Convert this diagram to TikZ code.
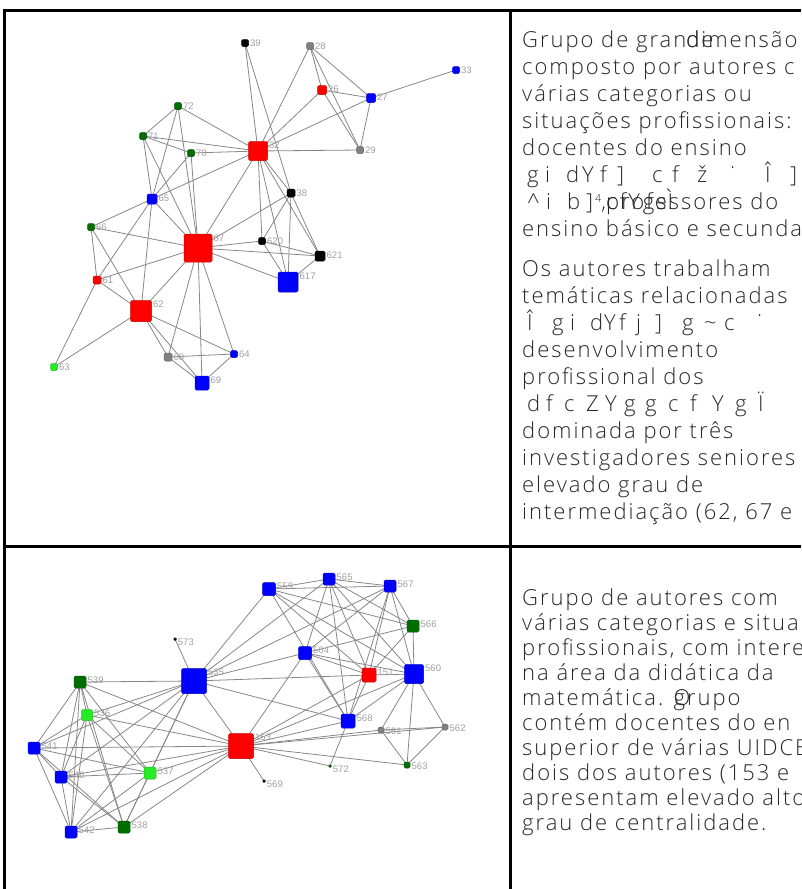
\documentclass[tikz,border=0pt]{standalone}
\usepackage{fontspec}
\newfontfamily\txtfont{Open Sans Light}[LetterSpace=9]
\newfontfamily\lblfont{Liberation Sans}
\pgfdeclarelayer{edges}
\pgfsetlayers{edges,main}
\definecolor{cred}{RGB}{255,0,0}
\definecolor{cblue}{RGB}{0,0,255}
\definecolor{cdg}{RGB}{0,110,0}
\definecolor{clg}{RGB}{40,235,40}
\definecolor{cgray}{RGB}{128,128,128}
\definecolor{cblk}{RGB}{0,0,0}
\definecolor{edgec}{RGB}{135,135,135}
\definecolor{lblc}{RGB}{160,160,160}
\definecolor{txtc}{RGB}{40,40,40}
\tikzset{
  gn/.style={rectangle, rounded corners=1.5pt, inner sep=0pt, outer sep=0pt, minimum size=#1, line width=0.5pt},
  lbl/.style={font=\lblfont\fontsize{9.5}{10}\selectfont, text=lblc, inner sep=0pt, anchor=west},
  edge/.style={draw=edgec, line width=0.8pt},
  frame/.style={line width=3pt, draw=black},
  txt/.style={font=\txtfont\fontsize{22}{27}\selectfont, text=txtc, inner sep=0pt, anchor=base west},
}
\newcommand\gnd[6]{%
  \node[gn=#4, fill=#5, draw=#5!80!black] (#1) at (#2,#3) {};
  \node[lbl] (#1l) at ([xshift=1.5pt,yshift=-4pt]#1.north east) {#6};}
\newcommand\gl[2]{\makebox[#1pt][l]{#2}}
\begin{document}
\begin{tikzpicture}[x=1pt,y=-1pt]
\useasboundingbox (0,0) rectangle (801,889);
\clip (0,0) rectangle (801,889);
% table frame
\draw[frame] (4,10) -- (805,10);
\draw[frame] (4,8.5) -- (4,895);
\draw[frame] (510,10) -- (510,895);
\draw[frame] (4,546) -- (805,546);

% ---------- graph 1 ----------
\gnd{a39}{245}{43}{7}{cblk}{39}
\gnd{a28}{310}{46}{7}{cgray}{28}
\gnd{a33}{456}{70}{7}{cblue}{33}
\gnd{a26}{322}{90}{9}{cred}{26}
\gnd{a27}{371}{98}{9}{cblue}{27}
\gnd{a72}{178}{106}{7}{cdg}{72}
\gnd{a71}{143}{136}{7}{cdg}{71}
\gnd{a70}{191}{153}{7}{cdg}{70}
\gnd{a32}{258}{151}{19}{cred}{32}
\gnd{a29}{360}{150}{7}{cgray}{29}
\gnd{a38}{291}{193}{8}{cblk}{38}
\gnd{a65}{152}{199}{10}{cblue}{65}
\gnd{a66}{91}{227}{7}{cdg}{66}
\gnd{a67}{198}{248}{28}{cred}{67}
\gnd{a620}{262}{241}{7}{cblk}{620}
\gnd{a621}{320}{256}{10}{cblk}{621}
\gnd{a617}{288}{282}{20}{cblue}{617}
\gnd{a61}{97}{280}{8}{cred}{61}
\gnd{a62}{141}{311}{21}{cred}{62}
\gnd{a68}{168}{357}{8}{cgray}{68}
\gnd{a64}{234}{354}{7}{cblue}{64}
\gnd{a63}{54}{367}{7}{clg}{63}
\gnd{a69}{202}{383}{14}{cblue}{69}

% ---------- graph 2 ----------
\gnd{b559}{269}{589}{13}{cblue}{559}
\gnd{b565}{329}{579}{12}{cblue}{565}
\gnd{b567}{390}{586}{12}{cblue}{567}
\gnd{b566}{413}{626}{12}{cdg}{566}
\gnd{b573}{175}{639}{2.5}{cblk}{573}
\gnd{b564}{305}{653}{13}{cblue}{564}
\gnd{b535}{194}{681}{25}{cblue}{535}
\gnd{b151}{369}{675}{14}{cred}{151}
\gnd{b560}{414}{674}{19}{cblue}{560}
\gnd{b539}{80}{682}{12}{cdg}{539}
\gnd{b536}{87}{715}{11}{clg}{536}
\gnd{b568}{348}{721}{14}{cblue}{568}
\gnd{b561}{381}{730}{6}{cgray}{561}
\gnd{b562}{445}{727}{6}{cgray}{562}
\gnd{b153}{241}{746}{25}{cred}{153}
\gnd{b541}{34}{748}{12}{cblue}{541}
\gnd{b540}{61}{777}{12}{cblue}{540}
\gnd{b537}{150}{773}{12}{clg}{537}
\gnd{b572}{330}{766}{2.5}{cdg}{572}
\gnd{b563}{407}{765}{6}{cdg}{563}
\gnd{b569}{264}{781}{2.5}{cblk}{569}
\gnd{b542}{71}{832}{12}{cblue}{542}
\gnd{b538}{124}{827}{12}{cdg}{538}

\begin{pgfonlayer}{edges}
\foreach \a/\b in {a39/a32, a39/a38, a28/a32, a28/a26, a28/a27, a28/a29, a26/a32, a26/a27, a26/a29,
  a27/a33, a27/a32, a27/a29, a29/a32, a72/a71, a72/a32, a72/a65, a72/a67, a70/a67,
  a71/a32, a71/a70, a71/a65, a71/a67, a70/a32, a70/a65, a65/a32, a65/a66, a65/a61, a65/a62, a65/a67,
  a66/a67, a66/a61, a66/a62, a67/a32, a67/a38, a67/a620, a67/a621, a67/a617, a67/a61, a67/a62,
  a67/a68, a67/a69, a67/a64, a32/a620, a32/a617, a32/a621, a32/a38, a38/a620, a38/a617, a38/a621,
  a620/a621, a620/a617, a621/a617, a61/a62, a61/a63, a62/a63, a62/a68, a62/a69, a62/a64,
  a68/a64, a68/a69, a64/a69}
  {\draw[edge] (\a.center) -- (\b.center);}
\foreach \a/\b in {b559/b565, b559/b567, b559/b535, b559/b568, b559/b151, b559/b566, b559/b560,
  b565/b567, b565/b535, b565/b564, b565/b151, b565/b568, b565/b566, b565/b560,
  b567/b564, b567/b151, b567/b566, b567/b560, b567/b535, b567/b568,
  b566/b564, b566/b151, b566/b560, b564/b535, b564/b151, b564/b568, b564/b153, b564/b560,
  b573/b535, b535/b151, b535/b153, b535/b568, b535/b539, b535/b536, b535/b541, b535/b540,
  b535/b537, b535/b542, b535/b538, b151/b560, b151/b153, b151/b568,
  b560/b153, b560/b568, b560/b561, b560/b562, b560/b563,
  b153/b568, b153/b561, b153/b562, b153/b572, b153/b563, b153/b569, b153/b539, b153/b536,
  b153/b541, b153/b540, b153/b537, b153/b542, b153/b538, b568/b572,
  b561/b562, b561/b563, b562/b563,
  b539/b536, b539/b541, b539/b540, b539/b542, b539/b538, b539/b537,
  b536/b541, b536/b540, b536/b542, b536/b538, b536/b537,
  b541/b540, b541/b542, b541/b538, b541/b537,
  b540/b542, b540/b538, b540/b537, b542/b538, b542/b537, b538/b537}
  {\draw[edge] (\a.center) -- (\b.center);}
\end{pgfonlayer}

% ---------- text, top cell ----------
\node[txt] (t1) at (522,47) {Grupo de gran\rlap{de}dimensão};
\node[txt] (t2) at (522,74) {composto por autores c};
\node[txt] (t3) at (522,101) {várias categorias ou};
\node[txt] (t4) at (522,128) {situações profissionais:};
\node[txt] (t5) at (522,155) {docentes do ensino};
\node[txt] (t6) at (527,182) {\gl{18}{g}\gl{21}{i}\gl{16}{d}\gl{18}{Y}\gl{17}{f}\gl{35}{]}\gl{20}{c}\gl{25}{f}\gl{33}{ž}\gl{35}{˙}\gl{25}{Î}]};
\node[txt] (t7) at (527,209) {\gl{19}{\^{}}\gl{21}{i}\gl{19}{b}\gl{9}{]}{\fontsize{11}{11}\selectfont\raisebox{7pt}{4}},\rlap{c\hspace{3pt}f\hspace{2pt}Y\hspace{3pt}g\hspace{2pt}s\hspace{1pt}Ì}professores do};
\node[txt] (t8) at (522,236) {ensino básico e secunda};
\node[txt] (t9) at (522,276) {Os autores trabalham};
\node[txt] (t10) at (522,303) {temáticas relacionadas};
\node[txt] (t11) at (527,330) {\gl{25}{Î}\gl{18}{g}\gl{20}{i}\gl{14}{d}\gl{15}{Y}\gl{17}{f}\gl{19}{j}\gl{27}{]}\gl{22}{g}\gl{20}{\char"007E}\gl{33}{c}˙};
\node[txt] (t12) at (522,357) {desenvolvimento};
\node[txt] (t13) at (522,384) {profissional dos};
\node[txt] (t14) at (527,411) {\gl{19}{d}\gl{18}{f}\gl{22}{c}\gl{19}{Z}\gl{19}{Y}\gl{21}{g}\gl{23}{g}\gl{22}{c}\gl{22}{f}\gl{23}{Y}\gl{23}{g}Ï};
\node[txt] (t15) at (522,438) {dominada por três};
\node[txt] (t16) at (522,465) {investigadores seniores};
\node[txt] (t17) at (522,492) {elevado grau de};
\node[txt] (t18) at (522,519) {intermediação (62, 67 e};

% ---------- text, bottom cell ----------
\node[txt] (u1) at (522,605) {Grupo de autores com};
\node[txt] (u2) at (522,630) {várias categorias e situa};
\node[txt] (u3) at (522,655) {profissionais, com intere};
\node[txt] (u4) at (522,680) {na área da didática da};
\node[txt] (u5) at (522,705) {matemática. \rlap{O}grupo};
\node[txt] (u6) at (522,730) {contém docentes do en};
\node[txt] (u7) at (522,755) {superior de várias UIDCE};
\node[txt] (u8) at (522,780) {dois dos autores (153 e};
\node[txt] (u9) at (522,805) {apresentam elevado alto};
\node[txt] (u10) at (522,830) {grau de centralidade.};
\end{tikzpicture}
\end{document}
